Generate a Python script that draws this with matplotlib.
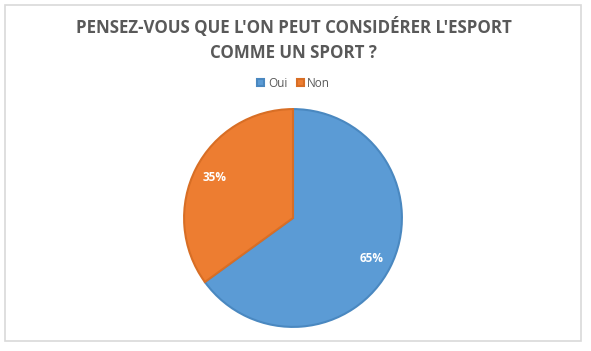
import matplotlib.pyplot as plt
from matplotlib.patches import Rectangle

labels = ['Oui', 'Non']
values = [65, 35]
colors = ['#5B9BD5', '#ED7D31']
edges = ['#4A88C0', '#D86E25']

fig = plt.figure(figsize=(5.91, 3.51), dpi=100)
fig.patches.append(Rectangle((5 / 591, 10 / 351), 576 / 591, 336 / 351,
                             transform=fig.transFigure, fill=False,
                             edgecolor='#D9D9D9', linewidth=1.2))

fig.text(0.497, 0.887, "PENSEZ-VOUS QUE L'ON PEUT CONSIDÉRER L'ESPORT\nCOMME UN SPORT ?",
         ha='center', va='center', fontsize=12.2, fontweight='bold',
         color='#595959', family='Open Sans', linespacing=1.5)

# pie: centre ~ (293, 218), radius ~110 px
r = 110
cx, cy = 293, 218
ax = fig.add_axes([(cx - r) / 591, (351 - cy - r) / 351, 2 * r / 591, 2 * r / 351])
wedges, texts, autotexts = ax.pie(values, colors=colors, startangle=90, counterclock=False,
                                  autopct='%d%%', pctdistance=0.81,
                                  wedgeprops=dict(linewidth=1.5))
for w, e in zip(wedges, edges):
    w.set_edgecolor(e)
for t in autotexts:
    t.set_color('white')
    t.set_fontsize(8.5)
    t.set_fontweight('bold')
    t.set_family('Open Sans')
ax.set_xlim(-1.01, 1.01)
ax.set_ylim(-1.01, 1.01)
ax.set_aspect('equal')

fig.legend(wedges, labels, loc='center', bbox_to_anchor=(0.497, 0.763), ncol=2,
           frameon=False, handlelength=0.6, handleheight=0.6,
           handletextpad=0.3, columnspacing=0.8,
           prop={'family': 'Open Sans', 'size': 8.5})
for t in fig.legends[0].get_texts():
    t.set_color('#595959')

fig.savefig('out.png', dpi=100, facecolor='white')
